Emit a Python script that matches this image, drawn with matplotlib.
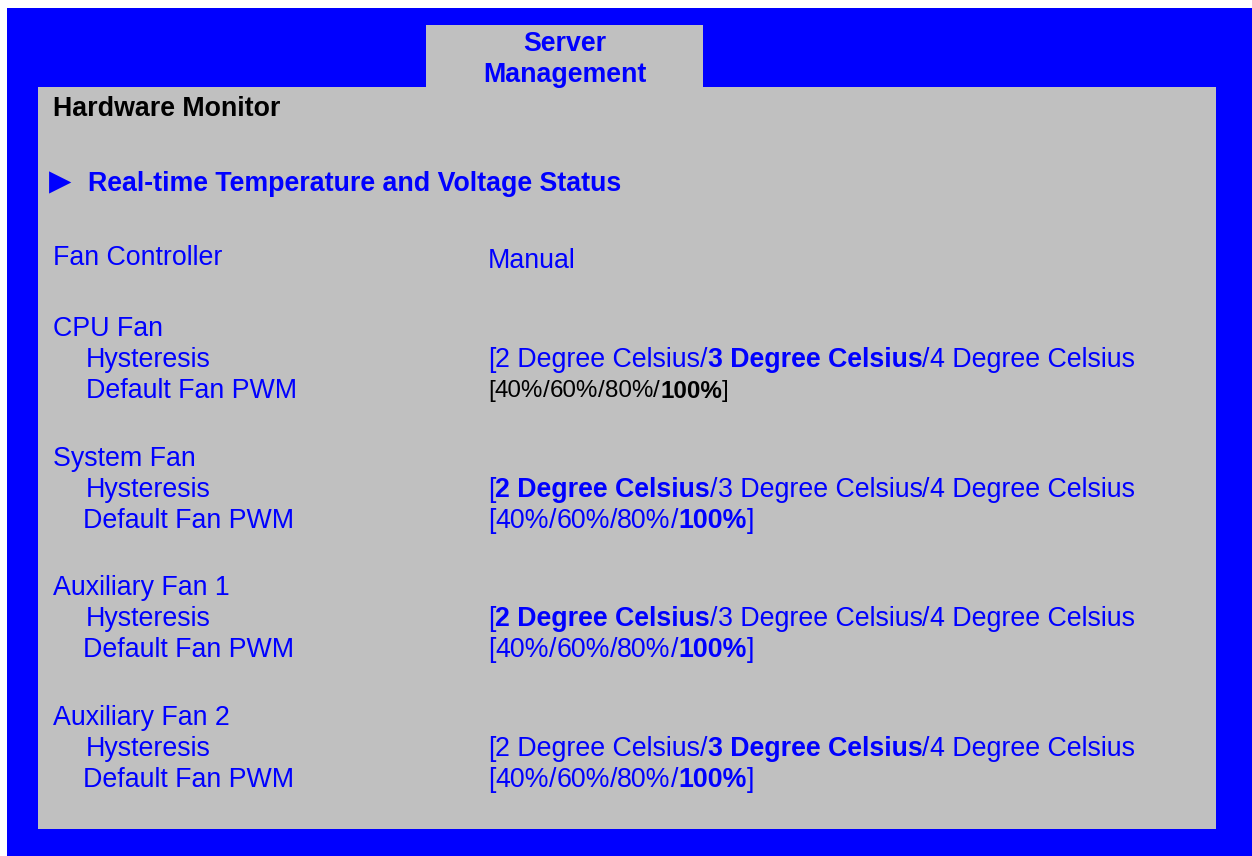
import matplotlib
matplotlib.use("Agg")
import matplotlib.pyplot as plt
from matplotlib.patches import Rectangle

# BIOS screen: Server Management > Hardware Monitor
BLUE = "#0000FF"
GRAY = "#C0C0C0"
FONT = ["Liberation Sans", "DejaVu Sans"]
FS = 19.3
DY = 2  # small baseline nudge

tab_title = ["Server", "Management"]
page_title = "Hardware Monitor"
submenu = "Real-time Temperature and Voltage Status"

fan_controller = ("Fan Controller", "Manual")

fans = ["CPU Fan", "System Fan", "Auxiliary Fan 1", "Auxiliary Fan 2"]
hyst_options = ["2 Degree Celsius", "3 Degree Celsius", "4 Degree Celsius"]
hyst_selected = [1, 0, 0, 1]
pwm_options = ["40%", "60%", "80%", "100%"]
pwm_selected = [3, 3, 3, 3]

fan_y = [327, 457, 586, 716]
pwm_label_x = [86, 83, 83, 83]


def draw_segments(ax, renderer, x, y, segments, size, color):
    # draw text pieces one after another on a single line
    for txt, bold in segments:
        t = ax.text(x, y, txt, fontsize=size, color=color, family=FONT,
                    fontweight="bold" if bold else "normal",
                    va="center", ha="left")
        bb = t.get_window_extent(renderer=renderer)
        x += bb.width


def option_segments(options, selected, trail=False):
    segs = [("[", False)]
    for i, opt in enumerate(options):
        segs.append((opt, i == selected))
        if i < len(options) - 1:
            segs.append(("/", False))
    if trail:
        segs.append(("]", False))
    return segs


def main():
    fig = plt.figure(figsize=(12.52, 8.56), dpi=100)
    ax = fig.add_axes([0, 0, 1, 1])
    ax.set_xlim(0, 1252)
    ax.set_ylim(856, 0)
    ax.axis("off")
    renderer = fig.canvas.get_renderer()

    # frame
    ax.add_patch(Rectangle((7, 8), 1245, 848, color=BLUE, lw=0))
    ax.add_patch(Rectangle((38, 87), 1178, 742, color=GRAY, lw=0))
    ax.add_patch(Rectangle((426, 25), 277, 63, color=GRAY, lw=0))

    ax.text(565, 42 + DY, tab_title[0], fontsize=FS, color=BLUE, family=FONT,
            fontweight="bold", ha="center", va="center")
    ax.text(565, 73 + DY, tab_title[1], fontsize=FS, color=BLUE, family=FONT,
            fontweight="bold", ha="center", va="center")

    ax.text(53, 107 + DY, page_title, fontsize=FS, color="black", family=FONT,
            fontweight="bold", ha="left", va="center")
    # submenu arrow
    ax.text(49, 182, "\u25B6", fontsize=21, color=BLUE,
            family=["DejaVu Sans"], ha="left", va="center")
    ax.text(88, 182 + DY, submenu, fontsize=FS, color=BLUE, family=FONT,
            fontweight="bold", ha="left", va="center")

    ax.text(53, 256 + DY, fan_controller[0], fontsize=FS, color=BLUE,
            family=FONT, ha="left", va="center")
    ax.text(488, 259 + DY, fan_controller[1], fontsize=FS, color=BLUE,
            family=FONT, ha="left", va="center")

    for i, name in enumerate(fans):
        y = fan_y[i] + DY
        ax.text(53, y, name, fontsize=FS, color=BLUE, family=FONT,
                ha="left", va="center")
        ax.text(86, y + 31, "Hysteresis", fontsize=FS, color=BLUE, family=FONT,
                ha="left", va="center")
        ax.text(pwm_label_x[i], y + 62, "Default Fan PWM", fontsize=FS,
                color=BLUE, family=FONT, ha="left", va="center")
        draw_segments(ax, renderer, 488, y + 31,
                      option_segments(hyst_options, hyst_selected[i]), FS, BLUE)
        if i == 0:
            # CPU fan PWM line is smaller and black in the original
            draw_segments(ax, renderer, 488, y + 62,
                          option_segments(pwm_options, pwm_selected[i], True),
                          FS * 0.9, "black")
        else:
            draw_segments(ax, renderer, 488, y + 62,
                          option_segments(pwm_options, pwm_selected[i], True),
                          FS, BLUE)

    fig.savefig("out.png", dpi=100)


if __name__ == "__main__":
    main()
